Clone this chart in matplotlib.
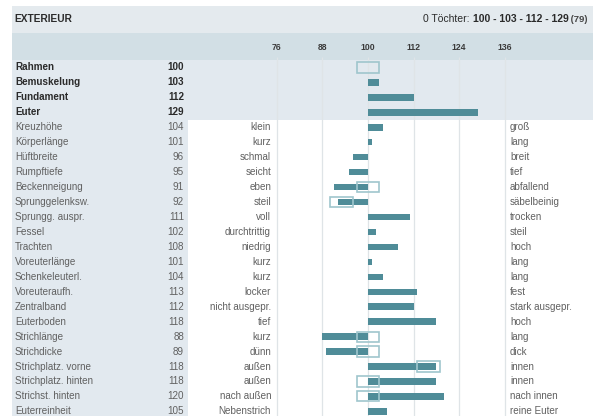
import numpy as np
import matplotlib
matplotlib.use('Agg')
import matplotlib.pyplot as plt
from matplotlib.patches import Rectangle
from matplotlib.transforms import blended_transform_factory

plt.rcParams['font.family'] = ['Liberation Sans', 'DejaVu Sans']

# --- data -------------------------------------------------------------
traits = ['Rahmen', 'Bemuskelung', 'Fundament', 'Euter',
          'Kreuzhöhe', 'Körperlänge', 'Hüftbreite', 'Rumpftiefe',
          'Beckenneigung', 'Sprunggelenksw.', 'Sprungg. auspr.', 'Fessel',
          'Trachten', 'Voreuterlänge', 'Schenkeleuterl.', 'Voreuteraufh.',
          'Zentralband', 'Euterboden', 'Strichlänge', 'Strichdicke',
          'Strichplatz. vorne', 'Strichplatz. hinten', 'Strichst. hinten',
          'Euterreinheit']
values = [100, 103, 112, 129,
          104, 101, 96, 95, 91, 92, 111, 102, 108, 101, 104, 113,
          112, 118, 88, 89, 118, 118, 120, 105]
left_poles = ['', '', '', '',
              'klein', 'kurz', 'schmal', 'seicht', 'eben', 'steil', 'voll',
              'durchtrittig', 'niedrig', 'kurz', 'kurz', 'locker',
              'nicht ausgepr.', 'tief', 'kurz', 'dünn', 'außen', 'außen',
              'nach außen', 'Nebenstrich']
right_poles = ['', '', '', '',
               'groß', 'lang', 'breit', 'tief', 'abfallend', 'säbelbeinig',
               'trocken', 'steil', 'hoch', 'lang', 'lang', 'fest',
               'stark ausgepr.', 'hoch', 'lang', 'dick', 'innen', 'innen',
               'nach innen', 'reine Euter']
# optimum marker boxes (nan = none)
optimum = [100, np.nan, np.nan, np.nan,
           np.nan, np.nan, np.nan, np.nan, 100, 93, np.nan, np.nan,
           np.nan, np.nan, np.nan, np.nan, np.nan, np.nan, 100, 100,
           116, 100, 100, np.nan]
n_summary = 4
ticks = [76, 88, 100, 112, 124, 136]
title = 'EXTERIEUR'
daughters = '0 Töchter: '
summary_txt = '100 - 103 - 112 - 129'
count_txt = ' (79)'

# --- layout -----------------------------------------------------------
W, H = 593, 416
BAR = '#4f8c98'
BOX = '#9fc6cd'
HEAD = '#e4eaee'
BAND = '#d2dfe5'
LIGHT = '#e2e9ef'
DARK = '#2b2b2b'
GREY = '#606060'

fig = plt.figure(figsize=(W / 100, H / 100), dpi=100)
bg = fig.add_axes([0, 0, 1, 1])
bg.set_xlim(0, W)
bg.set_ylim(H, 0)
bg.axis('off')

row_h = 14.95
row0 = 67.5
px_per = 3.8
x100 = 368
ax_left, ax_top = 188, 33
ax = fig.add_axes([ax_left / W, 0, (W - ax_left) / W, (H - ax_top) / H])
ax.set_xlim(100 - (x100 - ax_left) / px_per, 100 + (W - x100) / px_per)
ax.set_ylim((H - row0) / row_h, (ax_top - row0) / row_h)
ax.axis('off')
ax.patch.set_alpha(0)

n = len(traits)
y = np.arange(n)

# backgrounds (pixel layout)
bg.add_patch(Rectangle((12, 6), W - 12, 27, color=HEAD, lw=0))
bg.add_patch(Rectangle((12, 33), W - 12, 27, color=BAND, lw=0))
sum_bot = row0 + (n_summary - 0.5) * row_h
bg.add_patch(Rectangle((12, 60), W - 12, sum_bot - 60, color=LIGHT, lw=0))
bg.add_patch(Rectangle((12, sum_bot), ax_left - 12, H - sum_bot, color=LIGHT, lw=0))

# header
bg.text(14, 19.5, title, ha='left', va='center', fontsize=7.3,
        fontweight='bold', color=DARK)
t3 = bg.text(588, 19.5, count_txt, ha='right', va='center', fontsize=6.8,
             fontweight='bold', color='#444444')
t2 = bg.annotate(summary_txt, xy=(0, 0), xycoords=t3, ha='right', va='bottom',
                 fontsize=7.5, fontweight='bold', color=DARK)
bg.annotate(daughters, xy=(0, 0), xycoords=t2, ha='right', va='bottom',
            fontsize=7.5, color=DARK)

# grid + tick labels
ax.vlines(ticks, (57 - row0) / row_h, n + 1, color='#dfe4e7', lw=0.9, zorder=1)
for t in ticks:
    ax.text(t, (48 - row0) / row_h, str(t), ha='center', va='center',
            fontsize=6.2, fontweight='bold', color='#3a3a3a')

# bars and optimum boxes
diff = np.array(values) - 100
ax.barh(y, diff, left=100, height=0.43, color=BAR, zorder=3)
opt = np.array(optimum, dtype=float)
has = ~np.isnan(opt)
ax.barh(y[has], 6, left=opt[has] - 3, height=0.68, fill=False,
        edgecolor=BOX, lw=1.2, zorder=4)

# row texts
tr = blended_transform_factory(bg.transData, ax.transData)
for i in range(n):
    summ = i < n_summary
    col = DARK if summ else GREY
    fw = 'bold' if summ else 'normal'
    ax.text(15, i, traits[i], transform=tr, ha='left', va='center',
            fontsize=7.1, color=col, fontweight=fw)
    ax.text(184, i, str(values[i]), transform=tr, ha='right', va='center',
            fontsize=7.1, color=col, fontweight=fw)
    if left_poles[i]:
        ax.text(271, i, left_poles[i], transform=tr, ha='right', va='center',
                fontsize=7.1, color=GREY)
    if right_poles[i]:
        ax.text(510, i, right_poles[i], transform=tr, ha='left', va='center',
                fontsize=7.1, color=GREY)

fig.savefig('out.png', dpi=100)
